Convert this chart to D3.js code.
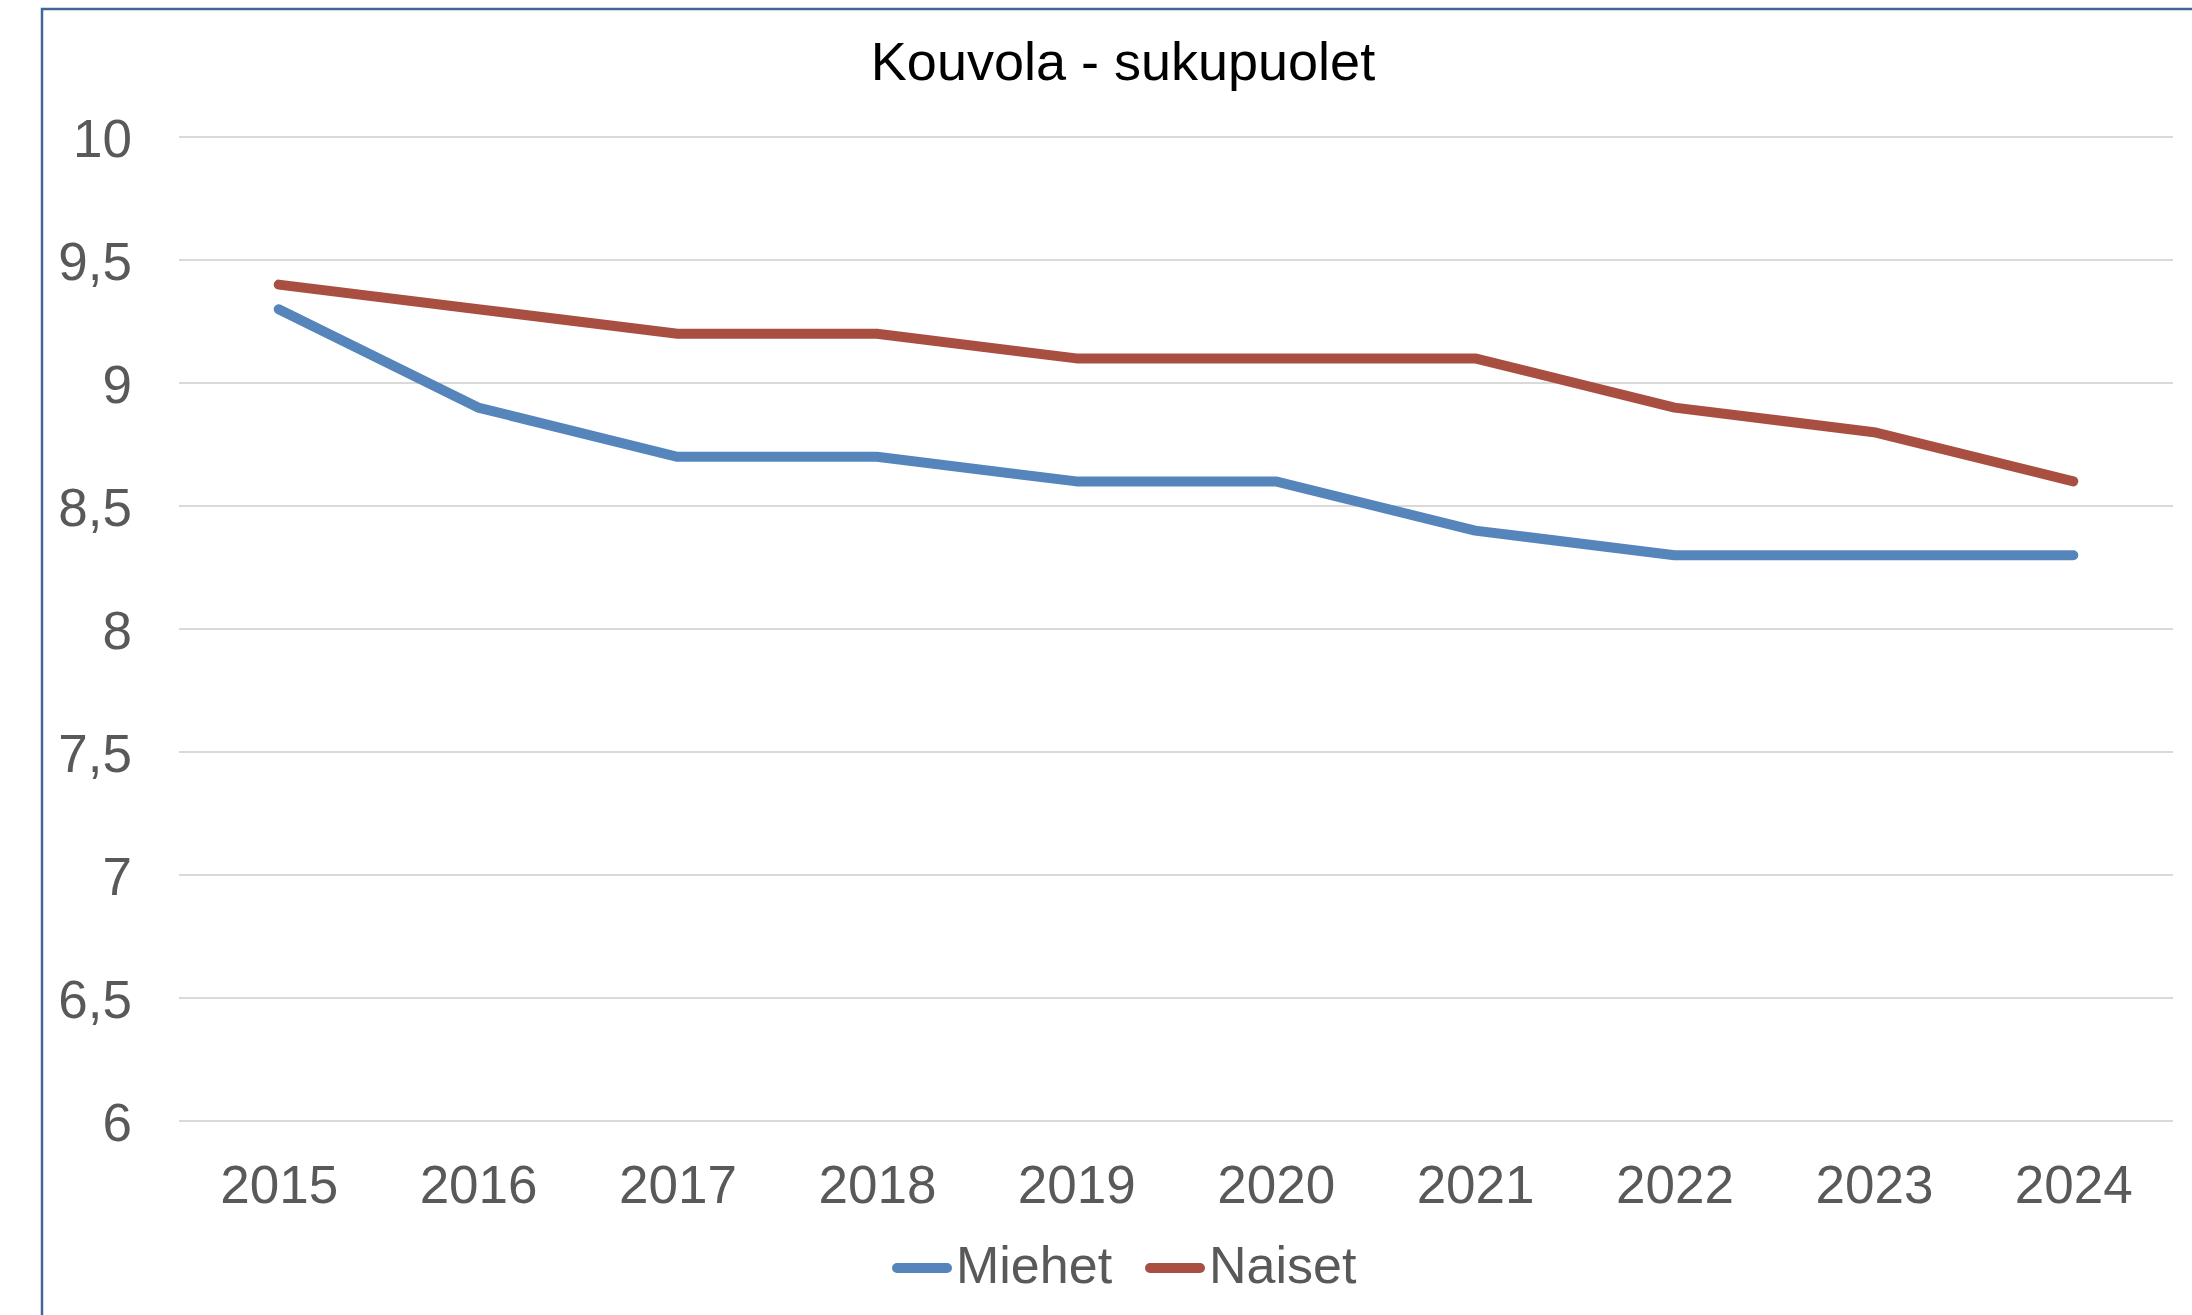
<!DOCTYPE html>
<html>
<head>
<meta charset="utf-8">
<script src="https://cdn.jsdelivr.net/npm/d3@7"></script>
<style>
  html, body { margin: 0; padding: 0; background: #fff; }
  svg { display: block; font-family: "Liberation Sans", Arial, sans-serif; }
</style>
</head>
<body>
<svg id="svg" width="2192" height="1315"></svg>
<script>
var years = ["2015", "2016", "2017", "2018", "2019", "2020", "2021", "2022", "2023", "2024"];
var miehet = [9.3, 8.9, 8.7, 8.7, 8.6, 8.6, 8.4, 8.3, 8.3, 8.3];
var naiset = [9.4, 9.3, 9.2, 9.2, 9.1, 9.1, 9.1, 8.9, 8.8, 8.6];
var seriesNames = ["Miehet", "Naiset"];
var seriesColors = ["#5585bb", "#a84f41"];
var yTicks = [6, 6.5, 7, 7.5, 8, 8.5, 9, 9.5, 10];
var title = "Kouvola - sukupuolet";

var svg = d3.select("#svg"),
  margin = { top: 137, right: 20, bottom: 194, left: 179 },
  width = +svg.attr("width") - margin.left - margin.right,
  height = +svg.attr("height") - margin.top - margin.bottom;

// chart area border (runs off the right edge like the original)
svg.append("rect")
  .attr("x", 42).attr("y", 9)
  .attr("width", 2400).attr("height", 1400)
  .attr("fill", "none")
  .attr("stroke", "#41679a")
  .attr("stroke-width", 2.5);

var fiLocale = d3.formatLocale({ decimal: ",", thousands: " ", grouping: [3], currency: ["", "€"] });
var fmt = fiLocale.format("~g");

var x = d3.scalePoint().domain(years).range([margin.left, margin.left + 1994]).padding(0.5);
var y = d3.scaleLinear().domain([6, 10]).range([margin.top + height, margin.top]);

// gridlines
svg.append("g")
  .selectAll("line")
  .data(yTicks)
  .enter().append("line")
  .attr("x1", margin.left).attr("x2", margin.left + 1994)
  .attr("y1", function (d) { return y(d); })
  .attr("y2", function (d) { return y(d); })
  .attr("stroke", "#d9d9d9")
  .attr("stroke-width", 2);

// y axis labels
var yAxis = svg.append("g")
  .attr("transform", "translate(" + (margin.left - 47) + ",0)")
  .call(d3.axisLeft(y).tickValues(yTicks).tickFormat(fmt).tickSize(0).tickPadding(0));
yAxis.select(".domain").remove();
yAxis.selectAll("text")
  .attr("fill", "#595959")
  .style("font-size", "53px")
  .style("font-family", "'Liberation Sans', Arial, sans-serif")
  .attr("dy", "0.36em");

// x axis labels
var xAxis = svg.append("g")
  .attr("transform", "translate(0," + (margin.top + height) + ")")
  .call(d3.axisBottom(x).tickSize(0).tickPadding(0));
xAxis.select(".domain").remove();
xAxis.selectAll("text")
  .attr("fill", "#595959")
  .style("font-size", "53px")
  .style("font-family", "'Liberation Sans', Arial, sans-serif")
  .attr("dy", 0)
  .attr("y", 82);

// lines
var line = d3.line()
  .x(function (d, i) { return x(years[i]); })
  .y(function (d) { return y(d); });

[miehet, naiset].forEach(function (s, i) {
  svg.append("path")
    .attr("d", line(s))
    .attr("fill", "none")
    .attr("stroke", seriesColors[i])
    .attr("stroke-width", 10)
    .attr("stroke-linecap", "round")
    .attr("stroke-linejoin", "round");
});

// title
svg.append("text")
  .attr("x", 1123).attr("y", 80)
  .attr("text-anchor", "middle")
  .attr("fill", "#000")
  .style("font-size", "54px")
  .text(title);

// legend
var legendX = [897, 1150];
seriesNames.forEach(function (name, i) {
  var g = svg.append("g").attr("transform", "translate(" + legendX[i] + ",1268)");
  g.append("line")
    .attr("x1", 0).attr("x2", 50)
    .attr("stroke", seriesColors[i])
    .attr("stroke-width", 10)
    .attr("stroke-linecap", "round");
  g.append("text")
    .attr("x", 59).attr("y", 15)
    .attr("fill", "#595959")
    .style("font-size", "52px")
    .text(name);
});
</script>
</body>
</html>
